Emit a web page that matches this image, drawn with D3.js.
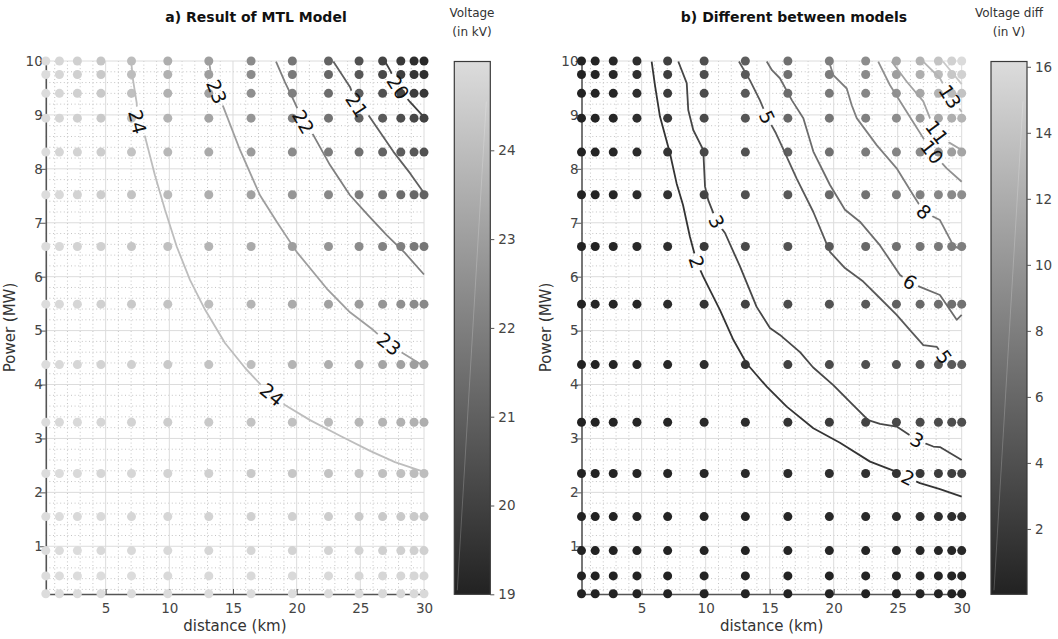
<!DOCTYPE html>
<html>
<head>
<meta charset="utf-8">
<script src="https://cdn.jsdelivr.net/npm/d3@7"></script>
<style>
  body { margin: 0; background: #fff; }
  svg { font-family: "DejaVu Sans", Verdana, sans-serif; display: block; }
</style>
</head>
<body>
<main></main>
<script>
// grid of the simulation
const distanceKm = [0.3, 1.37, 2.78, 4.63, 7.03, 9.88, 13.1, 16.42, 19.66, 22.5, 24.9, 26.75, 28.18, 29.22, 30];
const powerMW = [0.12, 0.45, 0.92, 1.55, 2.35, 3.3, 4.37, 5.49, 6.56, 7.52, 8.31, 8.94, 9.4, 9.75, 10];

// a) voltage in kV, one row per power value (bottom to top)
const voltageKV = [
  [25, 25, 25, 25, 25, 25, 25, 25, 25, 25, 25, 24.9, 24.9, 24.9, 24.9],
  [25, 25, 25, 25, 25, 24.9, 24.9, 24.9, 24.9, 24.9, 24.8, 24.8, 24.8, 24.8, 24.8],
  [25, 25, 25, 24.9, 24.9, 24.9, 24.8, 24.8, 24.7, 24.7, 24.7, 24.6, 24.6, 24.6, 24.6],
  [25, 25, 24.9, 24.9, 24.8, 24.8, 24.7, 24.6, 24.6, 24.5, 24.4, 24.4, 24.4, 24.4, 24.3],
  [25, 25, 24.9, 24.8, 24.8, 24.7, 24.6, 24.4, 24.3, 24.2, 24.2, 24.1, 24.1, 24.0, 24.0],
  [25, 24.9, 24.9, 24.8, 24.7, 24.5, 24.4, 24.2, 24.1, 23.9, 23.8, 23.7, 23.6, 23.6, 23.5],
  [25, 24.9, 24.8, 24.7, 24.6, 24.4, 24.2, 24.0, 23.7, 23.5, 23.4, 23.2, 23.1, 23.0, 23.0],
  [25, 24.9, 24.8, 24.6, 24.4, 24.2, 24.0, 23.7, 23.4, 23.1, 22.9, 22.7, 22.5, 22.4, 22.3],
  [25, 24.9, 24.7, 24.6, 24.3, 24.1, 23.7, 23.4, 23.0, 22.7, 22.4, 22.1, 22.0, 21.8, 21.7],
  [25, 24.9, 24.7, 24.5, 24.2, 23.9, 23.5, 23.1, 22.7, 22.3, 21.9, 21.6, 21.4, 21.2, 21.1],
  [25, 24.8, 24.7, 24.5, 24.2, 23.8, 23.4, 22.9, 22.4, 21.9, 21.5, 21.1, 20.9, 20.7, 20.5],
  [25, 24.8, 24.6, 24.4, 24.1, 23.7, 23.2, 22.7, 22.1, 21.6, 21.1, 20.8, 20.4, 20.2, 20.0],
  [25, 24.8, 24.6, 24.4, 24.1, 23.6, 23.1, 22.5, 22.0, 21.4, 20.9, 20.5, 20.1, 19.9, 19.7],
  [25, 24.8, 24.6, 24.4, 24.0, 23.6, 23.0, 22.4, 21.8, 21.2, 20.7, 20.2, 19.9, 19.6, 19.4],
  [25, 24.8, 24.6, 24.3, 24.0, 23.5, 23.0, 22.4, 21.7, 21.1, 20.5, 20.1, 19.7, 19.4, 19.2]
];

// b) difference between models in V, same layout
const voltageDiffV = [
  [0, 0, 0, 0, 0, 0, 0, 0, 0, 0, 0.1, 0.1, 0.1, 0.1, 0.1],
  [0, 0, 0, 0, 0.1, 0.1, 0.1, 0.1, 0.1, 0.2, 0.2, 0.2, 0.2, 0.2, 0.2],
  [0, 0, 0, 0.1, 0.1, 0.2, 0.2, 0.3, 0.3, 0.3, 0.4, 0.4, 0.4, 0.4, 0.5],
  [0, 0, 0.1, 0.1, 0.2, 0.3, 0.3, 0.4, 0.5, 0.7, 0.8, 1.0, 1.0, 1.1, 1.2],
  [0, 0.1, 0.1, 0.2, 0.3, 0.4, 0.5, 0.8, 1.1, 1.4, 1.6, 2.0, 2.3, 2.5, 2.6],
  [0, 0.1, 0.2, 0.3, 0.4, 0.6, 1.0, 1.5, 2.2, 2.9, 3.3, 3.5, 3.7, 3.8, 3.9],
  [0, 0.1, 0.2, 0.3, 0.5, 1.0, 1.6, 2.7, 3.5, 3.9, 4.2, 4.5, 4.7, 4.8, 5.1],
  [0, 0.1, 0.3, 0.4, 0.8, 1.5, 2.7, 3.6, 4.2, 4.7, 5.4, 6.1, 6.5, 6.7, 6.9],
  [0, 0.1, 0.3, 0.5, 1.1, 2.1, 3.5, 4.2, 4.9, 6.1, 6.8, 7.3, 7.6, 7.8, 8.0],
  [0, 0.2, 0.3, 0.7, 1.4, 2.9, 3.9, 4.7, 6.1, 7.0, 7.7, 8.2, 8.7, 9.0, 9.3],
  [0, 0.2, 0.4, 0.8, 1.6, 3.3, 4.2, 5.4, 6.8, 7.7, 8.5, 9.1, 9.7, 10.8, 11.4],
  [0, 0.2, 0.4, 1.0, 2.0, 3.5, 4.5, 6.1, 7.3, 8.2, 9.2, 10.4, 11.6, 12.2, 12.7],
  [0, 0.2, 0.4, 1.0, 2.2, 3.7, 4.7, 6.5, 7.6, 8.7, 9.7, 11.6, 12.5, 13.3, 14.0],
  [0, 0.2, 0.5, 1.1, 2.4, 3.8, 4.8, 6.7, 7.8, 9.0, 10.8, 12.2, 13.3, 14.3, 15.2],
  [0.1, 0.2, 0.5, 1.1, 2.6, 3.9, 5.1, 6.8, 8.0, 9.3, 11.4, 12.6, 14.0, 15.2, 16.1]
];

// contour lines as [distance km, power MW] points
const levelsA = [24, 23, 22, 21, 20];
const linesA = [
  [[7.0, 10.0], [7.15, 9.65], [7.44, 9.22], [7.5, 8.87], [8.09, 8.6], [8.87, 7.88], [9.66, 7.24], [10.58, 6.56], [11.62, 5.94], [12.8, 5.39], [14.37, 4.77], [15.94, 4.31], [17.28, 3.97], [18.06, 3.81], [19.08, 3.62], [21.05, 3.34], [23.4, 3.05], [25.76, 2.77], [27.72, 2.56], [30, 2.38]],
  [[13.12, 9.99], [13.33, 9.68], [13.72, 9.43], [14.24, 9.15], [15.55, 8.35], [17.12, 7.51], [18.46, 7.01], [20.0, 6.46], [22.36, 5.78], [24.19, 5.34], [26.02, 5.01], [27.25, 4.75], [28.35, 4.58], [30, 4.34]],
  [[18.38, 9.99], [19.08, 9.61], [19.87, 9.22], [20.52, 8.87], [21.3, 8.63], [22.62, 8.07], [24.19, 7.51], [25.6, 7.14], [27.07, 6.77], [28.5, 6.44], [30, 6.04]],
  [[22.88, 9.99], [24.19, 9.52], [24.72, 9.18], [25.63, 9.0], [27.59, 8.32], [28.9, 7.92], [30, 7.55]],
  [[26.94, 9.99], [27.33, 9.83], [27.96, 9.51], [28.9, 9.24], [30, 8.96]]
];
const spotsA = [
  [[7.5, 8.87], [18.06, 3.81]],
  [[13.72, 9.43], [27.25, 4.75]],
  [[20.52, 8.87]],
  [[24.72, 9.18]],
  [[27.96, 9.51]]
];

const levelsB = [1.6, 3.2, 4.8, 6.4, 8.0, 9.6, 11.2, 12.8, 14.4];
const linesB = [
  [[5.78, 9.99], [6.04, 9.55], [6.43, 8.97], [7.21, 8.29], [7.73, 7.73], [8.23, 7.33], [8.77, 6.74], [9.3, 6.27], [9.81, 6.0], [11.12, 5.38], [12.16, 4.83], [13.2, 4.39], [14.77, 3.96], [16.33, 3.59], [18.41, 3.19], [20.49, 2.92], [22.84, 2.57], [24.92, 2.38], [25.8, 2.27], [26.74, 2.17], [28.3, 2.06], [30, 1.92]],
  [[7.86, 9.99], [8.52, 9.59], [8.64, 9.09], [9.03, 8.72], [9.81, 8.35], [9.95, 7.67], [10.2, 7.42], [10.86, 7.02], [11.51, 6.81], [12.68, 6.19], [13.98, 5.44], [15.02, 5.05], [15.8, 4.92], [17.37, 4.6], [18.38, 4.32], [19.97, 3.99], [21.27, 3.68], [22.7, 3.34], [23.62, 3.27], [24.92, 3.22], [26.51, 2.97], [27.78, 2.85], [28.3, 2.84], [30, 2.6]],
  [[12.6, 9.99], [13.46, 9.64], [14.24, 9.27], [14.79, 8.96], [15.49, 8.66], [15.8, 8.5], [17.11, 7.82], [18.41, 7.2], [19.71, 6.46], [20.88, 6.16], [22.31, 5.91], [23.62, 5.6], [24.92, 5.29], [25.96, 5.01], [27.0, 4.73], [28.05, 4.7], [28.62, 4.51]],
  [[14.77, 9.99], [15.18, 9.83], [15.8, 9.68], [16.74, 9.27], [17.63, 8.94], [18.41, 8.32], [19.71, 7.7], [20.88, 7.24], [22.05, 7.02], [23.62, 6.58], [25.18, 6.03], [25.96, 5.9], [26.74, 5.81], [28.3, 5.66], [29.61, 5.2], [30, 5.29]],
  [[19.63, 9.99], [19.97, 9.74], [21.02, 9.49], [21.41, 9.18], [21.8, 8.94], [23.36, 8.44], [24.92, 8.01], [26.22, 7.51], [27.05, 7.2], [28.3, 7.05], [29.34, 6.58], [29.71, 6.53]],
  [[23.48, 9.99], [24.4, 9.55], [25.7, 9.06], [27.0, 8.57], [27.68, 8.31], [28.83, 8.01], [30, 7.76]],
  [[24.53, 9.99], [25.7, 9.62], [27.0, 9.25], [27.52, 8.94], [28.07, 8.68], [28.93, 8.5], [30, 8.35]],
  [[27.0, 9.99], [28.3, 9.68], [29.09, 9.34], [30, 9.06]],
  [[28.54, 9.99], [30, 9.57]]
];
const spotsB = [
  [[9.3, 6.27], [25.8, 2.27]],
  [[10.86, 7.02], [26.51, 2.97]],
  [[14.79, 8.96], [28.62, 4.51]],
  [[25.96, 5.9]],
  [[27.05, 7.2]],
  [[27.68, 8.31]],
  [[28.07, 8.68]],
  [[29.09, 9.34]],
  []
];

const distanceTicks = [5, 10, 15, 20, 25, 30];
const powerTicks = [1, 2, 3, 4, 5, 6, 7, 8, 9, 10];
const voltageTicks = [19, 20, 21, 22, 23, 24];
const diffTicks = [2, 4, 6, 8, 10, 12, 14, 16];

const W = 1058;
const H = 639;
const TOP = 61;
const BOTTOM = 594;

const $svg = d3.select('main').append('svg').attr('width', W).attr('height', H);
const $defs = $svg.append('defs');

const panels = [
  {
    key: 'a', title: 'a) Result of MTL Model', titleX: 256, x0: 45.8, x1: 424,
    values: voltageKV, domain: [19, 25], cbTicks: voltageTicks, cbX: 454.3,
    cbTitle: ['Voltage', '(in kV)'], cbTitleX: 472,
    levels: levelsA, lines: linesA, spots: spotsA, fmt: d => d3.format('d')(d)
  },
  {
    key: 'b', title: 'b) Different between models', titleX: 794, x0: 581.5, x1: 961.7,
    values: voltageDiffV, domain: [0.02, 16.16], cbTicks: diffTicks, cbX: 991,
    cbTitle: ['Voltage diff', '(in V)'], cbTitleX: 1009,
    levels: levelsB, lines: linesB, spots: spotsB, fmt: d => d3.format('d')(Math.round(d))
  }
];

function styleAxis($a) {
  $a.attr('font-family', null).attr('font-size', null);
  $a.selectAll('.tick line').attr('stroke', '#555');
  $a.selectAll('text').attr('fill', '#444').style('font-size', '13.5px');
}

function drawPanel(p) {
  const x = d3.scaleLinear().domain([0.3, 30]).range([p.x0, p.x1]);
  const y = d3.scaleLinear().domain([0.115, 10]).range([BOTTOM, TOP]);
  const color = d3.scaleLinear().domain(p.domain).range(['#222222', '#dcdcdc']).clamp(true);

  const $g = $svg.append('g').attr('class', `panel-${p.key}`);

  // grid: dotted minor, solid major
  const minorX = d3.range(1, 30).filter(d => d % 5 !== 0);
  const minorY = d3.range(1, 50).map(d => d / 5).filter(d => d % 1 !== 0);
  const $grid = $g.append('g');
  $grid.selectAll('.mx').data(minorX).join('line')
    .attr('x1', d => x(d)).attr('x2', d => x(d)).attr('y1', TOP).attr('y2', BOTTOM)
    .attr('stroke', '#c4c4c4').attr('stroke-dasharray', '1 2.6');
  $grid.selectAll('.my').data(minorY).join('line')
    .attr('y1', d => y(d)).attr('y2', d => y(d)).attr('x1', p.x0).attr('x2', p.x1)
    .attr('stroke', '#c4c4c4').attr('stroke-dasharray', '1 2.6');
  $grid.selectAll('.Mx').data(distanceTicks).join('line')
    .attr('x1', d => x(d)).attr('x2', d => x(d)).attr('y1', TOP).attr('y2', BOTTOM)
    .attr('stroke', '#dcdcdc');
  $grid.selectAll('.My').data(powerTicks).join('line')
    .attr('y1', d => y(d)).attr('y2', d => y(d)).attr('x1', p.x0).attr('x2', p.x1)
    .attr('stroke', '#dcdcdc');

  // axes
  const $axisX = $g.append('g').attr('transform', `translate(0, ${BOTTOM})`)
    .call(d3.axisBottom(x).tickValues(distanceTicks).tickSizeInner(-5).tickSizeOuter(0).tickPadding(9));
  const $axisY = $g.append('g').attr('transform', `translate(${p.x0}, 0)`)
    .call(d3.axisLeft(y).tickValues(powerTicks).tickSizeInner(6).tickSizeOuter(0).tickPadding(-3));
  [$axisX, $axisY].forEach($a => {
    styleAxis($a);
    $a.select('.domain').attr('stroke', '#555').attr('stroke-width', 1.6);
  });

  $g.append('text')
    .attr('x', (p.x0 + p.x1) / 2).attr('y', 631)
    .attr('text-anchor', 'middle').attr('fill', '#333').style('font-size', '15px')
    .text('distance (km)');
  $g.append('text')
    .attr('transform', `translate(${p.x0 - 31}, ${(TOP + BOTTOM) / 2}) rotate(-90)`)
    .attr('text-anchor', 'middle').attr('fill', '#333').style('font-size', '15px')
    .text('Power (MW)');

  $g.append('text')
    .attr('x', p.titleX).attr('y', 22)
    .attr('text-anchor', 'middle').attr('fill', '#111')
    .style('font-size', '14px').style('font-weight', 'bold')
    .text(p.title);

  // dots
  const cells = [];
  powerMW.forEach((pw, i) => {
    distanceKm.forEach((dk, j) => cells.push({ d: dk, p: pw, v: p.values[i][j] }));
  });
  $g.append('g').selectAll('circle').data(cells).join('circle')
    .attr('cx', d => x(d.d)).attr('cy', d => y(d.p)).attr('r', 4.5)
    .attr('fill', d => color(d.v));

  // contour lines with gaps where labels sit
  const toPx = d => [x(d[0]), y(d[1])];
  const labels = [];
  p.lines.forEach((pts, k) => {
    p.spots[k].forEach(s => {
      const px = pts.map(toPx);
      const idx = pts.findIndex(q => q[0] === s[0] && q[1] === s[1]);
      const a = px[Math.max(0, idx - 1)];
      const b = px[Math.min(px.length - 1, idx + 1)];
      let ang = Math.atan2(b[1] - a[1], b[0] - a[0]) * 180 / Math.PI;
      if (ang > 90) ang -= 180;
      if (ang < -90) ang += 180;
      labels.push({ pos: toPx(s), ang, txt: p.fmt(p.levels[k]) });
    });
  });

  const maskId = `gap-${p.key}`;
  const $mask = $defs.append('mask').attr('id', maskId)
    .attr('maskUnits', 'userSpaceOnUse').attr('x', 0).attr('y', 0).attr('width', W).attr('height', H);
  $mask.append('rect').attr('width', W).attr('height', H).attr('fill', '#fff');
  labels.forEach(l => {
    const w = l.txt.length * 12 + 6;
    $mask.append('rect')
      .attr('x', -w / 2).attr('y', -9).attr('width', w).attr('height', 18)
      .attr('transform', `translate(${l.pos[0]}, ${l.pos[1]}) rotate(${l.ang})`)
      .attr('fill', '#000');
  });

  const line = d3.line().x(d => x(d[0])).y(d => y(d[1]));
  $g.append('g').attr('mask', `url(#${maskId})`)
    .selectAll('path').data(p.lines).join('path')
    .attr('d', line)
    .attr('fill', 'none')
    .attr('stroke', (d, i) => color(p.levels[i]))
    .attr('stroke-width', 1.8)
    .attr('stroke-linejoin', 'round');

  $g.append('g').selectAll('text').data(labels).join('text')
    .attr('transform', d => `translate(${d.pos[0]}, ${d.pos[1]}) rotate(${d.ang})`)
    .attr('text-anchor', 'middle').attr('dy', '0.36em')
    .attr('fill', '#111').style('font-size', '19px')
    .text(d => d.txt);

  // colorbar
  const cbW = 36;
  const cb = d3.scaleLinear().domain(p.domain).range([594.3, 61.5]);
  const $grad = $defs.append('linearGradient').attr('id', `grad-${p.key}`)
    .attr('x1', 0).attr('y1', 1).attr('x2', 0).attr('y2', 0);
  $grad.append('stop').attr('offset', 0).attr('stop-color', color(p.domain[0]));
  $grad.append('stop').attr('offset', 1).attr('stop-color', color(p.domain[1]));
  $g.append('rect')
    .attr('x', p.cbX).attr('y', cb(p.domain[1]))
    .attr('width', cbW).attr('height', cb(p.domain[0]) - cb(p.domain[1]))
    .attr('fill', `url(#grad-${p.key})`)
    .attr('stroke', '#3a3a3a').attr('stroke-width', 1.2);
  $g.append('line')
    .attr('x1', p.cbX + 3).attr('y1', cb(p.domain[0]) - 4)
    .attr('x2', p.cbX + cbW - 4).attr('y2', cb(p.domain[1]) + 40)
    .attr('stroke', '#fff').attr('stroke-opacity', 0.25).attr('stroke-width', 0.8);
  const $cbAxis = $g.append('g').attr('transform', `translate(${p.cbX + cbW}, 0)`)
    .call(d3.axisRight(cb).tickValues(p.cbTicks).tickFormat(d3.format('d')).tickSize(4).tickPadding(4));
  styleAxis($cbAxis);
  $cbAxis.select('.domain').remove();

  $g.append('g').selectAll('text').data(p.cbTitle).join('text')
    .attr('x', p.cbTitleX).attr('y', (d, i) => 17 + i * 18.5)
    .attr('text-anchor', 'middle').attr('fill', '#333').style('font-size', '12px')
    .text(d => d);
}

panels.forEach(drawPanel);
</script>
</body>
</html>
